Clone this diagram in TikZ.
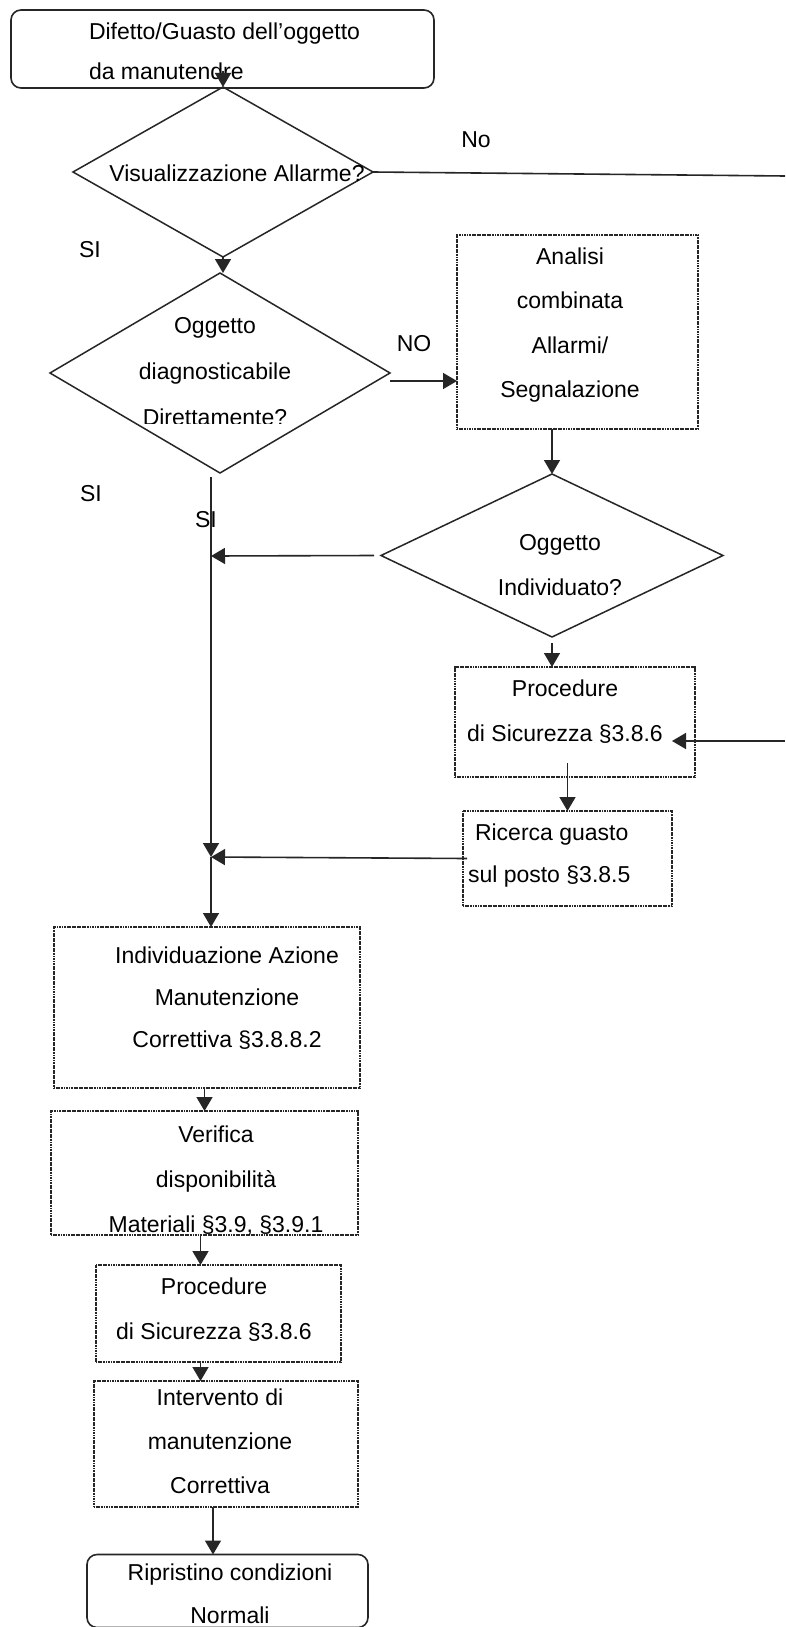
\documentclass[tikz,border=0pt]{standalone}
\usepackage{fontspec}
\setmainfont{Liberation Sans}
\usetikzlibrary{shapes.geometric,arrows.meta}
\begin{document}
\begin{tikzpicture}[x=1pt,y=-1pt,
  every node/.style={inner sep=0pt, outer sep=0pt},
  txt/.style={align=center, font=\fontsize{23}{#1}\selectfont},
  txt/.default=44,
  lbl/.style={font=\fontsize{23}{28}\selectfont},
  ln/.style={line width=1.6pt, draw=black!85},
  arr/.style={line width=1.6pt, draw=black!85, -{Triangle[length=14pt,width=16pt]}},
  rbox/.style={draw=black!85, line width=1.6pt, rounded corners=10pt, rectangle},
  dbox/.style={draw=black!85, line width=1.7pt, dash pattern=on 1.2pt off 0.45pt, rectangle},
  dia/.style={draw=black!85, line width=1.5pt, diamond}
]
\useasboundingbox[fill=white] (0,0) rectangle (785,1627);

% shapes
\node[rbox, minimum width=423pt, minimum height=78pt] (start) at (222.5,49) {};
\node[dia, minimum width=300pt, minimum height=170pt] (d1) at (223,172) {};
\node[dia, minimum width=340pt, minimum height=200pt] (d2) at (220,373) {};
\node[dbox, minimum width=241pt, minimum height=194pt] (analisi) at (577.5,332) {};
\node[dia, minimum width=342pt, minimum height=163pt] (d3) at (552,555.5) {};
\node[dbox, minimum width=240pt, minimum height=110pt] (proc1) at (575,722) {};
\node[dbox, minimum width=209pt, minimum height=95pt] (ricerca) at (567.5,858.5) {};
\node[dbox, minimum width=306pt, minimum height=161pt] (indiv) at (207,1007.5) {};
\node[dbox, minimum width=307pt, minimum height=124pt] (verif) at (204.5,1173) {};
\node[dbox, minimum width=245pt, minimum height=97pt] (proc2) at (218.5,1313.5) {};
\node[dbox, minimum width=264pt, minimum height=126pt] (interv) at (226,1444) {};
\node[rbox, minimum width=281pt, minimum height=73pt] (ripr) at (227.5,1591) {};

% texts
\node[txt=40, align=left, anchor=west] (tstart) at (89,51) {Difetto/Guasto dell’oggetto\\da manutendre};
\node[txt] (td1) at (237,173) {Visualizzazione Allarme?};
\begin{scope}
\clip (0,0) rectangle (785,423);
\node[txt=46] (td2) at (215,372) {Oggetto\\diagnosticabile\\Direttamente?};
\end{scope}
\node[txt=44.5] (tanalisi) at (570,325) {Analisi\\combinata\\Allarmi/\\Segnalazione};
\node[txt=45] (td3) at (560,565) {Oggetto\\Individuato?};
\node[txt=45] (tproc1) at (565,712) {Procedure\\di Sicurezza §3.8.6};
\node[txt=42, align=left, anchor=west] (tricerca) at (468,856) {\hspace*{7pt}Ricerca guasto\\sul posto §3.8.5};
\node[txt=42] (tindiv) at (227,998) {Individuazione Azione\\Manutenzione\\Correttiva §3.8.8.2};
\node[txt=45] (tverif) at (216,1181) {Verifica\\disponibilità\\Materiali §3.9, §3.9.1};
\node[txt=45] (tproc2) at (214,1310) {Procedure\\di Sicurezza §3.8.6};
\node[txt=44] (tinterv) at (220,1441) {Intervento di\\manutenzione\\Correttiva};
\node[txt=43] (tripr) at (230,1594) {Ripristino condizioni\\Normali};

% labels
\node[lbl] (lno) at (476,140) {No};
\node[lbl] (lsi1) at (90,250) {SI};
\node[lbl] (lNO) at (414,344) {NO};
\node[lbl] (lsi2) at (91,494) {SI};
\node[lbl] (lsi3) at (206,520) {SI};

% coordinates
\coordinate (rout) at (785,176);
\coordinate (rin) at (785,741);
\coordinate (vtop) at (211,477);
\coordinate (j1) at (211,556);
\coordinate (j2) at (211,857);

% connectors
\draw[arr] ([yshift=16pt]d1.north) -- (d1.north);
\draw[ln] (d1.east) -- (rout);
\draw[arr] (d1.south) -- (d1.south |- d2.north);
\draw[arr] ([yshift=-8pt]d2.east) -- ([yshift=-8pt]d2.east -| analisi.west);
\draw[arr] (analisi.south -| d3.north) -- (d3.north);
\draw[ln] (vtop) -- (j1);
\draw[arr] (j1) -- (j2);
\draw[arr] (j2) -- (j2 |- indiv.north);
\draw[arr] ([xshift=-7pt]d3.west) -- (j1);
\draw[arr] ([yshift=-6pt]d3.south) -- (d3.south |- proc1.north);
\draw[arr] (rin) -- ([xshift=-23pt,yshift=-19pt]proc1.east);
\draw[arr] ([yshift=14pt]proc1.south -| ricerca.north) -- (ricerca.north);
\draw[arr] ([xshift=4pt]ricerca.west) -- (j2);
\draw[arr] (verif.north |- indiv.south) -- (verif.north);
\draw[arr] ([xshift=-4pt]verif.south) -- ([xshift=-4pt]verif.south |- proc2.north);
\draw[arr] ([xshift=-18pt]proc2.south) -- ([xshift=-18pt]proc2.south |- interv.north);
\draw[arr] ([xshift=-13pt]interv.south) -- ([xshift=-13pt]interv.south |- ripr.north);
\end{tikzpicture}
\end{document}
